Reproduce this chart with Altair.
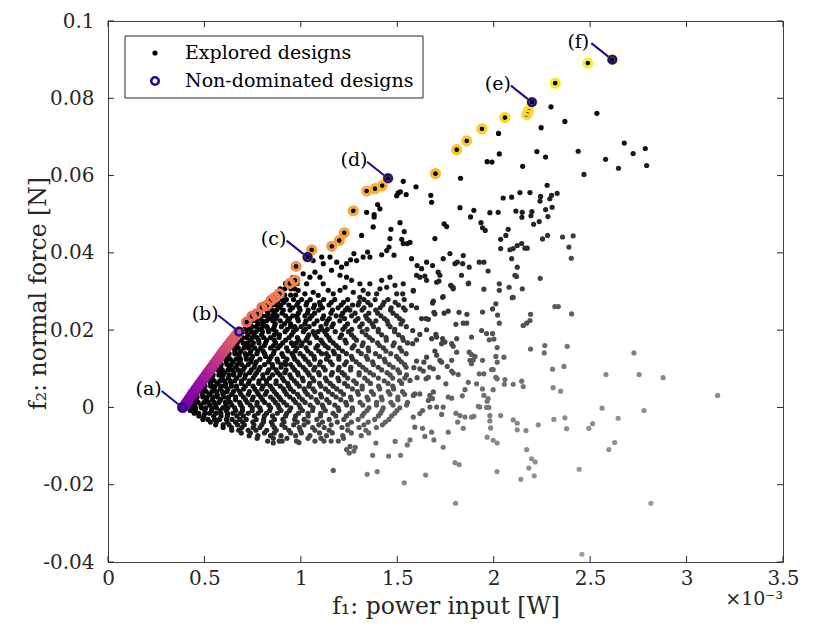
import altair as alt
import numpy as np
import pandas as pd

FONT = "DejaVu Serif"
NAVY = "#1f0c8c"
INK = "#262626"
W, H = 675, 541

# ---------------- data (f1 in 1e-3 W, f2 in N) ----------------
# non-dominated designs, ordered by f1
pareto_pts = [
    (0.387, 0.0000), (0.400, 0.0006), (0.408, 0.0012), (0.416, 0.0018), (0.424, 0.0024),
    (0.432, 0.0030), (0.440, 0.0036), (0.448, 0.0041), (0.456, 0.0047), (0.464, 0.0052),
    (0.472, 0.0058), (0.480, 0.0063), (0.488, 0.0069), (0.496, 0.0074), (0.504, 0.0080),
    (0.512, 0.0085), (0.520, 0.0091), (0.528, 0.0096), (0.536, 0.0102), (0.544, 0.0107),
    (0.552, 0.0113), (0.560, 0.0118), (0.568, 0.0124), (0.576, 0.0129), (0.584, 0.0135),
    (0.592, 0.0140), (0.600, 0.0146), (0.610, 0.0152), (0.620, 0.0159), (0.630, 0.0165),
    (0.640, 0.0172), (0.650, 0.0178), (0.660, 0.0184), (0.670, 0.0190), (0.680, 0.0196),
    (0.719, 0.0221), (0.746, 0.0236), (0.771, 0.0242), (0.798, 0.0259), (0.823, 0.0264),
    (0.845, 0.0277), (0.866, 0.0285), (0.888, 0.0294), (0.943, 0.0321), (0.969, 0.0329),
    (0.975, 0.0365), (1.035, 0.0389), (1.056, 0.0408), (1.160, 0.0417), (1.199, 0.0432),
    (1.225, 0.0452), (1.272, 0.0509), (1.341, 0.0560), (1.384, 0.0566), (1.422, 0.0574),
    (1.452, 0.0593), (1.698, 0.0605), (1.808, 0.0667), (1.860, 0.0690), (1.939, 0.0721),
    (2.058, 0.0750), (2.172, 0.0758), (2.180, 0.0767), (2.198, 0.0790), (2.319, 0.0839),
    (2.488, 0.0891), (2.615, 0.0900),
]

# highlighted designs
sel_labels = ["(a)", "(b)", "(c)", "(d)", "(e)", "(f)"]
sel_f1 = [0.387, 0.680, 1.035, 1.452, 2.198, 2.615]
sel_f2 = [0.0000, 0.0196, 0.0389, 0.0593, 0.0790, 0.0900]

# explored designs, scattered part
sparse_pts = [
    (2.297, 0.0778), (2.535, 0.0761), (2.369, 0.0740), (2.246, 0.0724), (2.677, 0.0684),
    (2.786, 0.0670), (2.224, 0.0662), (2.438, 0.0663), (2.723, 0.0657), (2.269, 0.0648),
    (2.580, 0.0642), (2.150, 0.0624), (2.793, 0.0626), (2.647, 0.0619), (2.468, 0.0603),
    (2.277, 0.0575), (2.136, 0.0556), (2.188, 0.0556), (2.243, 0.0546), (2.240, 0.0534),
    (2.300, 0.0549), (2.291, 0.0540), (2.329, 0.0554), (2.303, 0.0518), (2.269, 0.0512),
    (2.198, 0.0507), (2.146, 0.0492), (2.193, 0.0496), (2.281, 0.0494), (2.236, 0.0481),
    (2.207, 0.0474), (2.279, 0.0445), (2.253, 0.0436), (2.357, 0.0441), (2.412, 0.0444),
    (2.390, 0.0415), (2.402, 0.0386), (2.145, 0.0424), (2.162, 0.0412), (2.174, 0.0412),
    (2.241, 0.0334), (2.148, 0.0307),
    (2.025, 0.0709), (2.029, 0.0656), (1.966, 0.0636), (1.991, 0.0635), (1.828, 0.0593),
    (1.531, 0.0585), (1.597, 0.0571), (1.505, 0.0555), (1.497, 0.0548), (1.516, 0.0558),
    (1.546, 0.0551), (1.674, 0.0549), (1.678, 0.0531), (1.398, 0.0525), (1.410, 0.0514),
    (1.341, 0.0505), (1.380, 0.0499), (1.380, 0.0493), (1.825, 0.0517), (1.897, 0.0510),
    (1.980, 0.0504), (2.023, 0.0505), (2.049, 0.0542), (2.093, 0.0544), (2.115, 0.0508),
    (2.148, 0.0505), (1.880, 0.0493), (1.934, 0.0478), (1.942, 0.0465), (1.956, 0.0458),
    (1.514, 0.0478), (1.375, 0.0467), (1.467, 0.0461), (1.536, 0.0455), (1.743, 0.0475),
    (1.756, 0.0468), (1.315, 0.0445), (1.462, 0.0437), (1.457, 0.0415), (1.523, 0.0435),
    (1.531, 0.0424), (1.552, 0.0424), (1.566, 0.0427), (1.695, 0.0437), (2.075, 0.0461),
    (2.063, 0.0445), (2.036, 0.0435), (2.036, 0.0411), (2.084, 0.0408), (2.101, 0.0411),
    (2.122, 0.0419), (2.093, 0.0385), (2.122, 0.0363), (2.110, 0.0342), (2.118, 0.0339),
    (1.346, 0.0402), (1.358, 0.0389), (1.419, 0.0395), (1.445, 0.0406), (1.483, 0.0394),
    (1.275, 0.0398), (1.258, 0.0382), (1.289, 0.0380), (1.237, 0.0372), (1.323, 0.0389),
    (1.574, 0.0385), (1.603, 0.0367), (1.626, 0.0359), (1.652, 0.0376), (1.683, 0.0367),
    (1.712, 0.0350), (1.721, 0.0342), (1.738, 0.0385), (1.773, 0.0398), (1.799, 0.0372),
    (1.811, 0.0376), (1.842, 0.0393), (1.839, 0.0372), (1.873, 0.0363), (1.925, 0.0376),
    (1.949, 0.0376), (1.971, 0.0353), (1.833, 0.0342), (1.868, 0.0320), (1.781, 0.0314),
    (1.790, 0.0307), (1.704, 0.0324), (1.600, 0.0342), (1.617, 0.0337), (1.643, 0.0340),
    (1.652, 0.0329), (1.531, 0.0320), (1.583, 0.0303), (1.528, 0.0294), (1.738, 0.0287),
    (2.029, 0.0320), (2.029, 0.0303), (2.080, 0.0311), (2.101, 0.0285),
    (1.064, 0.0380), (1.108, 0.0389), (1.116, 0.0372), (1.151, 0.0389), (1.186, 0.0376),
    (1.211, 0.0363), (1.159, 0.0355), (1.203, 0.0342), (1.237, 0.0337), (1.263, 0.0329),
    (1.306, 0.0320), (1.323, 0.0303), (1.349, 0.0294), (1.393, 0.0294), (1.358, 0.0320),
    (1.419, 0.0329), (1.462, 0.0337), (1.116, 0.0320), (1.142, 0.0303), (1.168, 0.0294),
    (1.203, 0.0303), (1.073, 0.0350), (1.099, 0.0337), (1.047, 0.0337), (1.012, 0.0346),
    (1.030, 0.0320), (0.986, 0.0303), (1.021, 0.0294), (1.064, 0.0298), (1.090, 0.0290),
    (1.272, 0.0298), (1.306, 0.0285), (1.229, 0.0311), (1.410, 0.0307), (1.445, 0.0311),
    (1.488, 0.0316), (1.497, 0.0294),
    (1.583, 0.0301), (1.716, 0.0327), (1.777, 0.0316), (1.790, 0.0310), (1.870, 0.0322),
    (1.949, 0.0306), (1.735, 0.0285), (1.687, 0.0275), (1.683, 0.0270), (2.096, 0.0284),
    (2.011, 0.0268), (1.574, 0.0264), (1.600, 0.0258), (2.317, 0.0261), (2.335, 0.0261),
    (2.404, 0.0242), (1.690, 0.0246), (1.695, 0.0242), (1.743, 0.0244), (1.764, 0.0249),
    (1.820, 0.0246), (1.861, 0.0241), (1.942, 0.0247), (1.994, 0.0255), (2.020, 0.0239),
    (2.029, 0.0218), (2.191, 0.0241), (2.188, 0.0225), (2.171, 0.0218), (2.153, 0.0212),
    (1.626, 0.0230), (1.649, 0.0230), (1.661, 0.0228), (1.804, 0.0215), (1.842, 0.0218),
    (1.860, 0.0218), (1.580, 0.0199), (1.652, 0.0201), (1.937, 0.0199), (1.963, 0.0191),
    (1.994, 0.0191), (1.977, 0.0175), (2.001, 0.0177), (2.018, 0.0155), (1.885, 0.0182),
    (1.617, 0.0189), (1.600, 0.0175), (1.580, 0.0165), (1.678, 0.0178), (1.700, 0.0189),
    (1.704, 0.0182), (1.735, 0.0178), (1.747, 0.0169), (1.730, 0.0165), (1.782, 0.0165),
    (1.790, 0.0158), (1.808, 0.0178), (2.191, 0.0151), (2.265, 0.0160), (2.262, 0.0141),
    (2.381, 0.0158), (2.727, 0.0141), (1.695, 0.0146), (1.704, 0.0135), (1.721, 0.0122),
    (1.730, 0.0117), (1.808, 0.0143), (1.873, 0.0143), (1.885, 0.0137), (1.903, 0.0132),
    (1.877, 0.0122), (1.894, 0.0123), (1.942, 0.0122), (1.885, 0.0113), (2.011, 0.0132),
    (2.018, 0.0117), (1.997, 0.0098), (2.053, 0.0130), (1.600, 0.0120), (1.638, 0.0117),
    (1.652, 0.0130), (1.586, 0.0103), (1.617, 0.0100), (1.635, 0.0094), (1.669, 0.0104),
    (1.687, 0.0100), (1.661, 0.0078), (1.649, 0.0074), (1.603, 0.0077), (1.566, 0.0070),
    (1.712, 0.0078), (1.759, 0.0106), (1.782, 0.0094), (1.790, 0.0089), (1.816, 0.0085),
    (1.782, 0.0122), (1.925, 0.0087), (1.949, 0.0087), (1.989, 0.0098), (2.011, 0.0078),
    (2.018, 0.0074), (2.058, 0.0072), (2.101, 0.0060), (2.145, 0.0068), (2.153, 0.0054),
    (1.868, 0.0065), (1.911, 0.0061), (1.851, 0.0046), (1.752, 0.0061), (1.687, 0.0040),
    (1.669, 0.0031), (1.683, 0.0023), (1.661, 0.0018), (1.583, 0.0031), (1.591, 0.0035),
    (1.617, 0.0035), (1.764, 0.0027), (1.782, 0.0024), (1.837, 0.0030), (1.942, 0.0048),
    (1.949, 0.0031), (1.971, 0.0023), (1.966, 0.0016), (1.997, 0.0046), (2.055, 0.0060),
    (2.305, 0.0099), (2.364, 0.0106), (2.308, 0.0051), (2.347, 0.0042), (2.582, 0.0085),
    (2.754, 0.0085), (2.562, -0.0002), (2.645, -0.0028), (2.779, -0.0008), (2.513, -0.0042),
    (2.493, -0.0054), (2.627, -0.0091), (2.597, -0.0109), (2.369, -0.0027), (2.378, -0.0055),
    (2.312, -0.0031), (2.231, -0.0045), (2.167, -0.0060), (2.171, -0.0109), (2.196, -0.0133),
    (2.101, -0.0032), (2.122, -0.0041), (2.122, -0.0058), (2.036, -0.0021), (1.980, -0.0021),
    (1.980, -0.0035), (1.984, -0.0053), (1.966, -0.0077), (1.997, -0.0085), (2.018, -0.0092),
    (1.897, -0.0023), (1.885, -0.0025), (1.851, -0.0025), (1.825, -0.0021), (1.804, -0.0015),
    (1.813, -0.0038), (1.842, -0.0054), (1.920, 0.0003), (1.928, 0.0001), (1.963, 0.0000),
    (1.975, 0.0000), (1.730, -0.0018), (1.738, 0.0001), (1.704, 0.0001), (1.669, 0.0001),
    (1.631, -0.0008), (1.617, -0.0016), (1.583, -0.0025), (1.591, -0.0051), (1.631, -0.0054),
    (1.678, -0.0064), (1.643, -0.0075), (1.690, -0.0084), (1.764, -0.0064), (1.738, -0.0103),
    (1.566, -0.0084),
    (0.857, -0.0092), (0.888, -0.0087), (0.990, -0.0091), (1.120, -0.0087), (1.194, -0.0087),
    (1.237, -0.0109), (1.251, -0.0118), (1.255, -0.0101), (1.275, -0.0113), (1.282, -0.0103),
    (1.389, -0.0092), (1.372, -0.0124), (1.455, -0.0126), (1.517, -0.0124), (1.489, -0.0088),
    (1.552, -0.0097), (1.168, -0.0163), (1.344, -0.0173), (1.396, -0.0166), (1.536, -0.0195),
    (1.647, -0.0175), (1.799, -0.0143), (1.821, -0.0148), (1.802, -0.0248), (2.017, -0.0166),
    (2.215, -0.0141), (2.182, -0.0157), (2.210, -0.0177), (2.141, -0.0186), (2.443, -0.0160),
    (2.457, -0.0380),
    (2.878, 0.0077), (3.161, 0.0031), (2.815, -0.0248),
]

# explored designs, dense cloud below the front: (f2, [f1 ...]) rows
cloud_rows = [
    (0.0336, [0.957]),
    (0.0321, [0.921, 0.948, 0.981]),
    (0.0307, [0.893, 0.917, 0.949, 0.968]),
    (0.0291, [0.868, 0.893, 0.916, 0.947, 0.973]),
    (0.0279, [0.846, 0.869, 0.902, 0.925, 0.962, 1.004, 1.049, 1.118, 1.176, 1.243, 1.327, 1.385, 1.452, 1.536]),
    (0.0265, [0.818, 0.849, 0.871, 0.897, 0.938, 0.979, 1.027, 1.071, 1.101, 1.146, 1.209, 1.268, 1.297, 1.361, 1.424, 1.506]),
    (0.0252, [0.796, 0.820, 0.851, 0.874, 0.909, 0.944, 0.996, 1.038, 1.093, 1.164, 1.231, 1.254, 1.317, 1.388, 1.465, 1.541]),
    (0.0237, [0.768, 0.798, 0.821, 0.852, 0.877, 0.921, 0.958, 0.979, 1.021, 1.057, 1.118, 1.183, 1.209, 1.263, 1.336, 1.415, 1.497]),
    (0.0224, [0.746, 0.768, 0.799, 0.822, 0.855, 0.893, 0.931, 0.987, 1.026, 1.084, 1.137, 1.202, 1.283, 1.356, 1.389, 1.447, 1.528]),
    (0.0209, [0.717, 0.746, 0.769, 0.801, 0.824, 0.862, 0.899, 0.947, 0.968, 1.001, 1.043, 1.104, 1.161, 1.229, 1.306, 1.377, 1.463, 1.547]),
    (0.0196, [0.692, 0.714, 0.745, 0.768, 0.801, 0.833, 0.871, 0.918, 0.961, 1.013, 1.064, 1.089, 1.124, 1.178, 1.247, 1.318, 1.401, 1.486]),
    (0.0181, [0.667, 0.696, 0.718, 0.749, 0.773, 0.807, 0.843, 0.887, 0.939, 0.982, 1.034, 1.082, 1.145, 1.203, 1.276, 1.355, 1.442, 1.527]),
    (0.0167, [0.648, 0.670, 0.701, 0.723, 0.754, 0.783, 0.817, 0.869, 0.906, 0.951, 0.977, 1.006, 1.046, 1.113, 1.168, 1.235, 1.323, 1.398, 1.484, 1.553]),
    (0.0154, [0.624, 0.653, 0.675, 0.705, 0.728, 0.761, 0.792, 0.843, 0.881, 0.926, 0.979, 1.027, 1.078, 1.142, 1.196, 1.266, 1.349, 1.428, 1.513]),
    (0.0139, [0.606, 0.628, 0.658, 0.680, 0.711, 0.735, 0.772, 0.812, 0.858, 0.902, 0.954, 0.996, 1.053, 1.107, 1.132, 1.174, 1.236, 1.313, 1.387, 1.466, 1.546]),
    (0.0125, [0.584, 0.612, 0.634, 0.664, 0.687, 0.718, 0.743, 0.788, 0.838, 0.877, 0.928, 0.968, 1.023, 1.071, 1.133, 1.197, 1.268, 1.346, 1.433, 1.508]),
    (0.0111, [0.565, 0.587, 0.617, 0.639, 0.670, 0.693, 0.727, 0.762, 0.812, 0.852, 0.898, 0.921, 0.947, 0.993, 1.048, 1.097, 1.163, 1.227, 1.304, 1.376, 1.458, 1.538]),
    (0.0097, [0.542, 0.570, 0.592, 0.622, 0.645, 0.676, 0.700, 0.743, 0.782, 0.833, 0.872, 0.923, 0.968, 1.024, 1.067, 1.126, 1.194, 1.258, 1.338, 1.419, 1.503]),
    (0.0084, [0.523, 0.545, 0.575, 0.597, 0.628, 0.651, 0.683, 0.713, 0.762, 0.803, 0.853, 0.892, 0.943, 0.987, 1.043, 1.096, 1.158, 1.226, 1.302, 1.377, 1.463, 1.548]),
    (0.0069, [0.500, 0.528, 0.550, 0.580, 0.603, 0.634, 0.658, 0.692, 0.733, 0.783, 0.822, 0.872, 0.913, 0.966, 1.012, 1.068, 1.134, 1.197, 1.274, 1.346, 1.432, 1.512]),
    (0.0055, [0.481, 0.503, 0.533, 0.555, 0.586, 0.609, 0.641, 0.666, 0.712, 0.752, 0.803, 0.842, 0.893, 0.937, 0.992, 1.042, 1.104, 1.167, 1.243, 1.318, 1.403, 1.477]),
    (0.0041, [0.459, 0.487, 0.509, 0.539, 0.562, 0.593, 0.617, 0.650, 0.683, 0.733, 0.772, 0.823, 0.862, 0.917, 0.962, 1.023, 1.072, 1.143, 1.207, 1.293, 1.366, 1.453, 1.527]),
    (0.0027, [0.440, 0.462, 0.492, 0.514, 0.545, 0.568, 0.600, 0.625, 0.662, 0.702, 0.753, 0.792, 0.843, 0.887, 0.943, 0.992, 1.053, 1.107, 1.183, 1.257, 1.343, 1.417, 1.503]),
    (0.0013, [0.417, 0.445, 0.467, 0.497, 0.520, 0.551, 0.575, 0.608, 0.634, 0.683, 0.722, 0.773, 0.812, 0.868, 0.912, 0.973, 1.022, 1.088, 1.147, 1.233, 1.307, 1.393, 1.467, 1.553]),
    (-0.0001, [0.404, 0.432, 0.454, 0.484, 0.507, 0.538, 0.562, 0.595, 0.621, 0.657, 0.697, 0.748, 0.787, 0.843, 0.887, 0.948, 0.997, 1.063, 1.117, 1.193, 1.267, 1.353, 1.427, 1.513]),
    (-0.0015, [0.447, 0.470, 0.502, 0.526, 0.559, 0.585, 0.620, 0.648, 0.687, 0.727, 0.778, 0.822, 0.878, 0.927, 0.988, 1.037, 1.103, 1.167, 1.253, 1.327, 1.413, 1.487]),
    (-0.0031, [0.492, 0.518, 0.553, 0.578, 0.614, 0.643, 0.683, 0.717, 0.768, 0.807, 0.863, 0.907, 0.968, 1.017, 1.083, 1.147, 1.223, 1.297, 1.383, 1.457]),
    (-0.0045, [0.558, 0.597, 0.628, 0.672, 0.707, 0.757, 0.797, 0.853, 0.902, 0.963, 1.017, 1.093, 1.157, 1.243, 1.327, 1.423]),
    (-0.0059, [0.642, 0.678, 0.727, 0.767, 0.823, 0.872, 0.938, 0.997, 1.073, 1.147, 1.243, 1.337]),
    (-0.0073, [0.732, 0.777, 0.843, 0.897, 0.973, 1.047, 1.133, 1.217, 1.313]),
    (-0.0087, [0.828, 0.903, 0.977, 1.073, 1.157]),
    # in-between rows
    (0.0272, [0.834, 0.879, 0.913, 0.986, 1.032, 1.097, 1.158, 1.221, 1.302, 1.347, 1.431, 1.489]),
    (0.0258, [0.812, 0.838, 0.889, 0.957, 0.992, 1.066, 1.112, 1.193, 1.242, 1.327, 1.411, 1.468, 1.532]),
    (0.0244, [0.785, 0.829, 0.862, 0.903, 0.987, 1.034, 1.071, 1.156, 1.217, 1.281, 1.352, 1.398, 1.478]),
    (0.0230, [0.759, 0.783, 0.838, 0.871, 0.942, 0.983, 1.046, 1.112, 1.148, 1.227, 1.296, 1.343, 1.433, 1.512]),
    (0.0216, [0.735, 0.779, 0.806, 0.867, 0.915, 0.947, 1.021, 1.068, 1.131, 1.168, 1.242, 1.318, 1.371, 1.452, 1.519]),
    (0.0202, [0.708, 0.731, 0.788, 0.831, 0.856, 0.929, 0.977, 1.024, 1.108, 1.137, 1.218, 1.264, 1.343, 1.402, 1.487]),
    (0.0188, [0.683, 0.727, 0.758, 0.796, 0.862, 0.889, 0.952, 1.041, 1.072, 1.133, 1.211, 1.263, 1.338, 1.419, 1.507]),
    (0.0174, [0.661, 0.689, 0.738, 0.781, 0.823, 0.862, 0.921, 0.988, 1.027, 1.104, 1.152, 1.229, 1.288, 1.371, 1.443, 1.531]),
    (0.0160, [0.642, 0.664, 0.716, 0.743, 0.811, 0.858, 0.893, 0.961, 1.002, 1.087, 1.126, 1.183, 1.276, 1.318, 1.407, 1.478]),
    (0.0146, [0.619, 0.658, 0.689, 0.741, 0.776, 0.804, 0.862, 0.933, 0.971, 1.036, 1.093, 1.168, 1.216, 1.297, 1.352, 1.441, 1.523]),
    (0.0132, [0.598, 0.621, 0.679, 0.716, 0.749, 0.817, 0.846, 0.909, 0.962, 1.013, 1.068, 1.142, 1.197, 1.262, 1.339, 1.408, 1.496]),
    (0.0118, [0.579, 0.613, 0.648, 0.684, 0.741, 0.769, 0.833, 0.881, 0.919, 0.984, 1.038, 1.101, 1.153, 1.236, 1.287, 1.372, 1.438, 1.521]),
    (0.0104, [0.557, 0.583, 0.631, 0.662, 0.708, 0.758, 0.789, 0.854, 0.897, 0.958, 1.012, 1.073, 1.117, 1.198, 1.259, 1.322, 1.401, 1.478, 1.546]),
    (0.0090, [0.537, 0.579, 0.604, 0.653, 0.687, 0.734, 0.771, 0.826, 0.879, 0.917, 0.983, 1.036, 1.092, 1.163, 1.214, 1.302, 1.358, 1.447, 1.512]),
    (0.0076, [0.514, 0.541, 0.592, 0.624, 0.667, 0.709, 0.753, 0.804, 0.838, 0.904, 0.951, 1.008, 1.061, 1.127, 1.192, 1.243, 1.331, 1.402, 1.476, 1.539]),
    (0.0062, [0.493, 0.531, 0.568, 0.609, 0.638, 0.691, 0.728, 0.782, 0.823, 0.871, 0.932, 0.979, 1.046, 1.097, 1.152, 1.227, 1.288, 1.361, 1.452, 1.523]),
    (0.0048, [0.473, 0.498, 0.549, 0.583, 0.621, 0.668, 0.703, 0.761, 0.797, 0.852, 0.909, 0.946, 1.017, 1.063, 1.128, 1.186, 1.267, 1.318, 1.409, 1.481]),
    (0.0034, [0.452, 0.489, 0.527, 0.566, 0.597, 0.642, 0.689, 0.728, 0.779, 0.816, 0.874, 0.926, 0.983, 1.034, 1.102, 1.163, 1.221, 1.298, 1.377, 1.462, 1.538]),
    (0.0020, [0.431, 0.458, 0.509, 0.541, 0.583, 0.623, 0.661, 0.713, 0.748, 0.801, 0.857, 0.896, 0.962, 1.008, 1.079, 1.134, 1.207, 1.262, 1.349, 1.421, 1.503]),
    (0.0006, [0.412, 0.447, 0.481, 0.528, 0.559, 0.611, 0.642, 0.689, 0.737, 0.772, 0.834, 0.881, 0.927, 0.991, 1.048, 1.112, 1.176, 1.238, 1.321, 1.392, 1.478, 1.548]),
    (-0.0008, [0.427, 0.453, 0.502, 0.537, 0.581, 0.613, 0.662, 0.697, 0.748, 0.792, 0.838, 0.897, 0.941, 1.008, 1.061, 1.127, 1.197, 1.268, 1.343, 1.421, 1.498]),
    (-0.0022, [0.471, 0.497, 0.548, 0.586, 0.619, 0.668, 0.702, 0.759, 0.811, 0.853, 0.921, 0.973, 1.038, 1.102, 1.181, 1.236, 1.318, 1.402, 1.471]),
    (-0.0038, [0.531, 0.562, 0.618, 0.661, 0.698, 0.751, 0.806, 0.847, 0.913, 0.981, 1.037, 1.112, 1.189, 1.262, 1.349, 1.438]),
    (-0.0052, [0.597, 0.641, 0.694, 0.753, 0.788, 0.862, 0.918, 0.992, 1.061, 1.121, 1.213, 1.302, 1.392]),
    (-0.0066, [0.691, 0.738, 0.811, 0.862, 0.947, 1.003, 1.097, 1.163, 1.262, 1.352]),
    (-0.0080, [0.773, 0.857, 0.928, 1.037, 1.104, 1.221]),
]

x_ticks = [0, 0.5, 1, 1.5, 2, 2.5, 3, 3.5]
y_ticks = [-0.04, -0.02, 0, 0.02, 0.04, 0.06, 0.08, 0.1]

# ---------------- frames ----------------
par = pd.DataFrame(pareto_pts, columns=["f1", "f2"])
# colour position along the plasma map, by f2
par["t"] = np.interp(par["f2"], [0, 0.008, 0.0195, 0.039, 0.06, 0.079, 0.09],
                     [0.22, 0.33, 0.60, 0.76, 0.84, 0.94, 0.99])

cloud_pts = [(x, y) for y, xs_ in cloud_rows for x in xs_]
exp = pd.DataFrame(sparse_pts + cloud_pts + pareto_pts, columns=["f1", "f2"])
front = np.interp(exp["f1"], par["f1"], par["f2"])
exp["gap"] = front - exp["f2"]

sel = pd.DataFrame({"label": sel_labels, "f1": sel_f1, "f2": sel_f2})
xt = pd.DataFrame({"v": x_ticks})
yt = pd.DataFrame({"v": y_ticks})
one = pd.DataFrame({"k": [0]})

xs = alt.Scale(domain=[0, 3.5], nice=False, zero=False)
ys = alt.Scale(domain=[-0.04, 0.1], nice=False, zero=False)

x_axis = alt.Axis(values=x_ticks, format="~g", ticks=False, domain=False, grid=False,
                  labelFlush=False, labelPadding=6, labelFont=FONT, labelFontSize=20,
                  labelColor=INK,
                  title="f\u2081: power input [W]", titleFont=FONT, titleFontSize=23.5,
                  titleFontWeight="normal", titleColor=INK, titleX=W / 2, titleY=44,
                  titleBaseline="middle")
y_axis = alt.Axis(values=y_ticks, ticks=False, domain=False, grid=False,
                  labelFlush=False,
                  labelExpr="datum.value == 0 ? '0' : replace(format(datum.value, '.2~f'), '\u2212', '-')",
                  labelPadding=14, labelFont=FONT, labelFontSize=20, labelColor=INK,
                  title="f\u2082: normal force [N]", titleFont=FONT, titleFontSize=23.5,
                  titleFontWeight="normal", titleColor=INK, titleAngle=-90,
                  titleX=-70, titleY=272, titleBaseline="middle")


def X(field):
    return alt.X(field, scale=xs, axis=x_axis)


def Y(field):
    return alt.Y(field, scale=ys, axis=y_axis)


explored = alt.Chart(exp).mark_circle(size=27, opacity=1).encode(
    x=X("f1:Q"), y=Y("f2:Q"),
    color=alt.Color("gap:Q", legend=None,
                    scale=alt.Scale(domain=[0, 0.025, 0.05, 0.08, 0.12],
                                    range=["#000000", "#1a1a1a", "#4a4a4a", "#888888", "#9e9e9e"],
                                    clamp=True, interpolate="rgb")),
)

pareto = alt.Chart(par).mark_point(filled=False, size=64, strokeWidth=3.2, opacity=1).encode(
    x=X("f1:Q"), y=Y("f2:Q"),
    stroke=alt.Stroke("t:Q", legend=None, scale=alt.Scale(scheme="plasma", domain=[0, 1])),
)

leaders = alt.Chart(sel).mark_rule(color=NAVY, strokeWidth=2, xOffset=-4, yOffset=-3,
                                   x2Offset=-21, y2Offset=-16.5).encode(
    x=X("f1:Q"), y=Y("f2:Q"), x2="f1:Q", y2="f2:Q",
)

hl = alt.Chart(sel).mark_point(filled=False, size=55, strokeWidth=2.6, color=NAVY, opacity=1).encode(
    x=X("f1:Q"), y=Y("f2:Q"),
)

labels = alt.Chart(sel).mark_text(font=FONT, fontSize=19, dx=-34, dy=-18, color="black").encode(
    x=X("f1:Q"), y=Y("f2:Q"), text="label:N",
)

tick_style = dict(color=INK, strokeWidth=1)
xt_bot = alt.Chart(xt).mark_rule(**tick_style).encode(
    x=X("v:Q"), y=alt.value(H), y2=alt.value(H - 6))
xt_top = alt.Chart(xt).mark_rule(**tick_style).encode(
    x=X("v:Q"), y=alt.value(0), y2=alt.value(6))
yt_left = alt.Chart(yt).mark_rule(**tick_style).encode(
    y=Y("v:Q"), x=alt.value(0), x2=alt.value(6))
yt_right = alt.Chart(yt).mark_rule(**tick_style).encode(
    y=Y("v:Q"), x=alt.value(W), x2=alt.value(W - 6))

leg_box = alt.Chart(one).mark_rect(fill="white", stroke=INK, strokeWidth=1).encode(
    x=alt.value(17), x2=alt.value(315), y=alt.value(15), y2=alt.value(77))
leg_dot = alt.Chart(one).mark_circle(size=27, color="black", opacity=1).encode(
    x=alt.value(47), y=alt.value(32))
leg_ring = alt.Chart(one).mark_point(filled=False, size=55, strokeWidth=2.6, color=NAVY, opacity=1).encode(
    x=alt.value(47), y=alt.value(60))
leg_t1 = alt.Chart(one).mark_text(align="left", baseline="middle", font=FONT, fontSize=19,
                                  color="black", text="Explored designs").encode(
    x=alt.value(77), y=alt.value(32))
leg_t2 = alt.Chart(one).mark_text(align="left", baseline="middle", font=FONT, fontSize=19,
                                  color="black", text="Non-dominated designs").encode(
    x=alt.value(77), y=alt.value(60))
expo = alt.Chart(one).mark_text(align="right", baseline="middle", font=FONT, fontSize=19,
                                color=INK, text="\u00d710\u207b\u00b3").encode(
    x=alt.value(W), y=alt.value(H + 37))

chart = alt.layer(
    explored, pareto, leaders, hl, labels,
    xt_bot, xt_top, yt_left, yt_right,
    leg_box, leg_dot, leg_ring, leg_t1, leg_t2, expo,
).resolve_scale(color="independent", stroke="independent").properties(
    width=W, height=H,
    autosize=alt.AutoSizeParams(type="none"),
    padding={"left": 100, "top": 13, "right": 23, "bottom": 63},
    background="white",
).configure_view(stroke="#444444", strokeWidth=1)

chart.save("out.html", embed_options={"renderer": "svg", "actions": False})
